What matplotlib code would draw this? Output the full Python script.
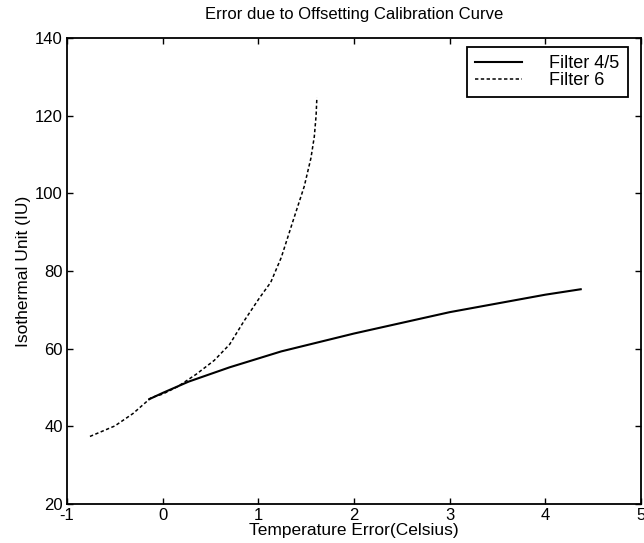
import numpy as np
import matplotlib.pyplot as plt

plt.rcParams['font.family'] = ['Liberation Sans', 'DejaVu Sans']
plt.rcParams['axes.unicode_minus'] = False

# Filter 4/5 (solid)
x_f45 = [-0.14, 0.0, 0.27, 0.70, 1.24, 2.0, 3.0, 4.0, 4.37]
y_f45 = [47.0, 48.6, 51.5, 55.2, 59.3, 63.9, 69.4, 73.9, 75.3]

# Filter 6 (dashed)
x_f6 = [-0.76, -0.50, -0.31, -0.12, 0.0, 0.155, 0.35, 0.54, 0.70, 0.85,
        1.01, 1.13, 1.24, 1.36, 1.48, 1.55, 1.585, 1.604, 1.612]
y_f6 = [37.4, 40.1, 43.3, 47.4, 48.3, 50.2, 53.4, 57.0, 61.1, 67.1,
        73.0, 77.1, 83.5, 92.7, 101.8, 109.1, 114.6, 120.1, 124.7]

fig = plt.figure(figsize=(6.44, 5.43), dpi=100)
ax = fig.add_axes([67 / 644, 1 - 504 / 543, (641 - 67) / 644, (504 - 38) / 543])

ax.plot(x_f45, y_f45, color='black', linewidth=1.5, label='Filter 4/5')
ax.plot(x_f6, y_f6, color='black', linewidth=1.1, linestyle=(0, (2.2, 1.6)),
        label='Filter 6')

ax.set_xlim(-1, 5)
ax.set_ylim(20, 140)
ax.set_xticks(range(-1, 6))
ax.set_yticks(range(20, 141, 20))
ax.tick_params(direction='in', top=True, right=True, labelsize=12, length=4,
               width=1, pad=3)
ax.tick_params(axis='x', pad=3)
for s in ax.spines.values():
    s.set_linewidth(1.3)

ax.set_title('Error due to Offsetting Calibration Curve', fontsize=12, pad=14)
ax.set_xlabel('Temperature Error(Celsius)', fontsize=12.5, labelpad=0)
ax.set_ylabel('Isothermal Unit (IU)', fontsize=12.5, labelpad=3)

leg = ax.legend(loc='upper right', bbox_to_anchor=(0.977, 0.981), fontsize=13,
                handlelength=2.6, handletextpad=1.5, borderpad=0.45,
                labelspacing=0.0, borderaxespad=0, fancybox=False,
                framealpha=1, edgecolor='black')
leg.get_frame().set_linewidth(1.3)

plt.savefig('out.png', dpi=100)
